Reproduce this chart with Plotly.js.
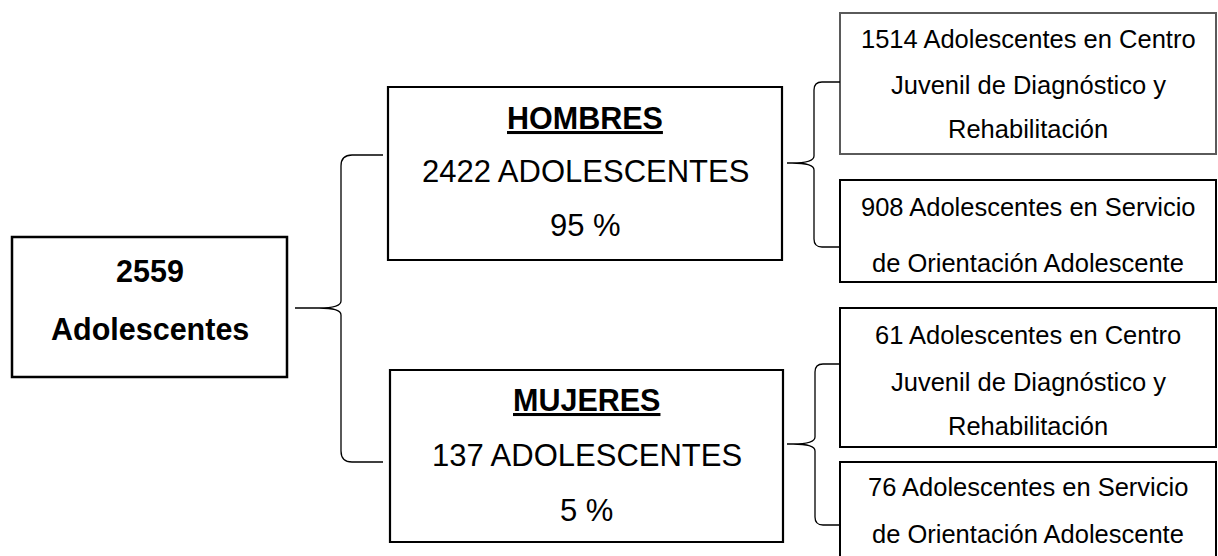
<!DOCTYPE html>
<html>
<head>
<meta charset="utf-8">
<script src="https://cdn.plot.ly/plotly-3.0.1.min.js"></script>
<style>html,body{margin:0;padding:0;background:#fff;}#chart{width:1218px;height:556px;}</style>
</head>
<body>
<div id="chart"></div>
<script>
// ---------- DATA ----------
const totalCount = 2559;
const totalLabel = 'Adolescentes';
const groupNames = ['HOMBRES', 'MUJERES'];
const groupCounts = [2422, 137];
const groupPercents = [95, 5];
const groupUnit = 'ADOLESCENTES';
const serviceCountsHombres = [1514, 908];
const serviceCountsMujeres = [61, 76];
const serviceLines = [
  ['Adolescentes en Centro', 'Juvenil de Diagnóstico y', 'Rehabilitación'],
  ['Adolescentes en Servicio', 'de Orientación Adolescente']
];

// ---------- LAYOUT GEOMETRY (diagram placement) ----------
const FONT = 'Arial, "Liberation Sans", Helvetica, sans-serif';
const rootBox = {x0: 12, x1: 287, y0: 237, y1: 377, lines: [271, 329]};
const groupBoxes = [
  {x0: 388, x1: 782, y0: 87, y1: 260, lines: [118, 171, 225]},
  {x0: 390, x1: 783, y0: 370, y1: 542, lines: [400, 455, 510]}
];
const leafBoxes = [
  [{x0: 840, x1: 1216, y0: 13, y1: 154, lines: [39, 85, 129], color: '#5a5a5a'},
   {x0: 840, x1: 1216, y0: 180, y1: 282, lines: [207, 263], color: '#000'}],
  [{x0: 840, x1: 1216, y0: 308, y1: 447, lines: [335, 382, 426], color: '#000'},
   {x0: 840, x1: 1216, y0: 462, y1: 620, lines: [487, 534], color: '#000'}]
];
const braces = [
  {tipX: 295, tipY: 308, spine: 341, arm: 383, top: 155, bot: 462, r: 11},
  {tipX: 787, tipY: 163, spine: 814, arm: 840, top: 82, bot: 247, r: 8},
  {tipX: 787, tipY: 444, spine: 815, arm: 840, top: 364, bot: 525, r: 8}
];

const shapes = [];
const annotations = [];

function box(b, color, width) {
  shapes.push({type: 'rect', xref: 'x', yref: 'y', x0: b.x0, x1: b.x1, y0: b.y0, y1: b.y1,
    line: {color: color, width: width}, fillcolor: 'rgba(0,0,0,0)'});
}
function text(x, y, t, size, bold, under) {
  annotations.push({x: x, y: y, xref: 'x', yref: 'y', text: bold ? '<b>' + t + '</b>' : t,
    showarrow: false, xanchor: 'center', yanchor: 'middle', borderpad: 0,
    font: {family: FONT, size: size, color: '#000', lineposition: under ? 'under' : 'none'}});
}
function brace(b) {
  const s = b.spine, r = b.r;
  const p = 'M ' + b.arm + ' ' + b.top +
    ' L ' + (s + r) + ' ' + b.top +
    ' Q ' + s + ' ' + b.top + ' ' + s + ' ' + (b.top + r) +
    ' L ' + s + ' ' + (b.tipY - 7) +
    ' Q ' + s + ' ' + b.tipY + ' ' + (s - 22) + ' ' + b.tipY +
    ' L ' + b.tipX + ' ' + b.tipY +
    ' M ' + (s - 22) + ' ' + b.tipY +
    ' Q ' + s + ' ' + b.tipY + ' ' + s + ' ' + (b.tipY + 7) +
    ' L ' + s + ' ' + (b.bot - r) +
    ' Q ' + s + ' ' + b.bot + ' ' + (s + r) + ' ' + b.bot +
    ' L ' + b.arm + ' ' + b.bot;
  shapes.push({type: 'path', xref: 'x', yref: 'y', path: p, line: {color: '#000', width: 1.3}});
}

// root
box(rootBox, '#000', 2.5);
const rcx = (rootBox.x0 + rootBox.x1) / 2;
text(rcx, rootBox.lines[0], String(totalCount), 30.5, true, false);
text(rcx, rootBox.lines[1], totalLabel, 30.5, true, false);

// groups
const leafCounts = [serviceCountsHombres, serviceCountsMujeres];
groupBoxes.forEach(function (g, i) {
  box(g, '#000', 2.2);
  const cx = (g.x0 + g.x1) / 2;
  text(cx, g.lines[0], groupNames[i], 30.5, true, true);
  text(cx, g.lines[1], groupCounts[i] + ' ' + groupUnit, 31, false, false);
  text(cx, g.lines[2], groupPercents[i] + ' %', 31, false, false);
  leafBoxes[i].forEach(function (lb, j) {
    box(lb, lb.color, 2);
    const lcx = (lb.x0 + lb.x1) / 2;
    serviceLines[j].forEach(function (ln, k) {
      const t = k === 0 ? leafCounts[i][j] + ' ' + ln : ln;
      text(lcx, lb.lines[k], t, 25.5, false, false);
    });
  });
});
braces.forEach(brace);

const layout = {
  width: 1218, height: 556,
  margin: {l: 0, r: 0, t: 0, b: 0, pad: 0},
  paper_bgcolor: '#fff', plot_bgcolor: '#fff',
  showlegend: false,
  xaxis: {range: [0, 1218], visible: false, fixedrange: true},
  yaxis: {range: [556, 0], visible: false, fixedrange: true},
  shapes: shapes,
  annotations: annotations
};
Plotly.newPlot('chart', [], layout, {displayModeBar: false, staticPlot: true});
</script>
</body>
</html>
